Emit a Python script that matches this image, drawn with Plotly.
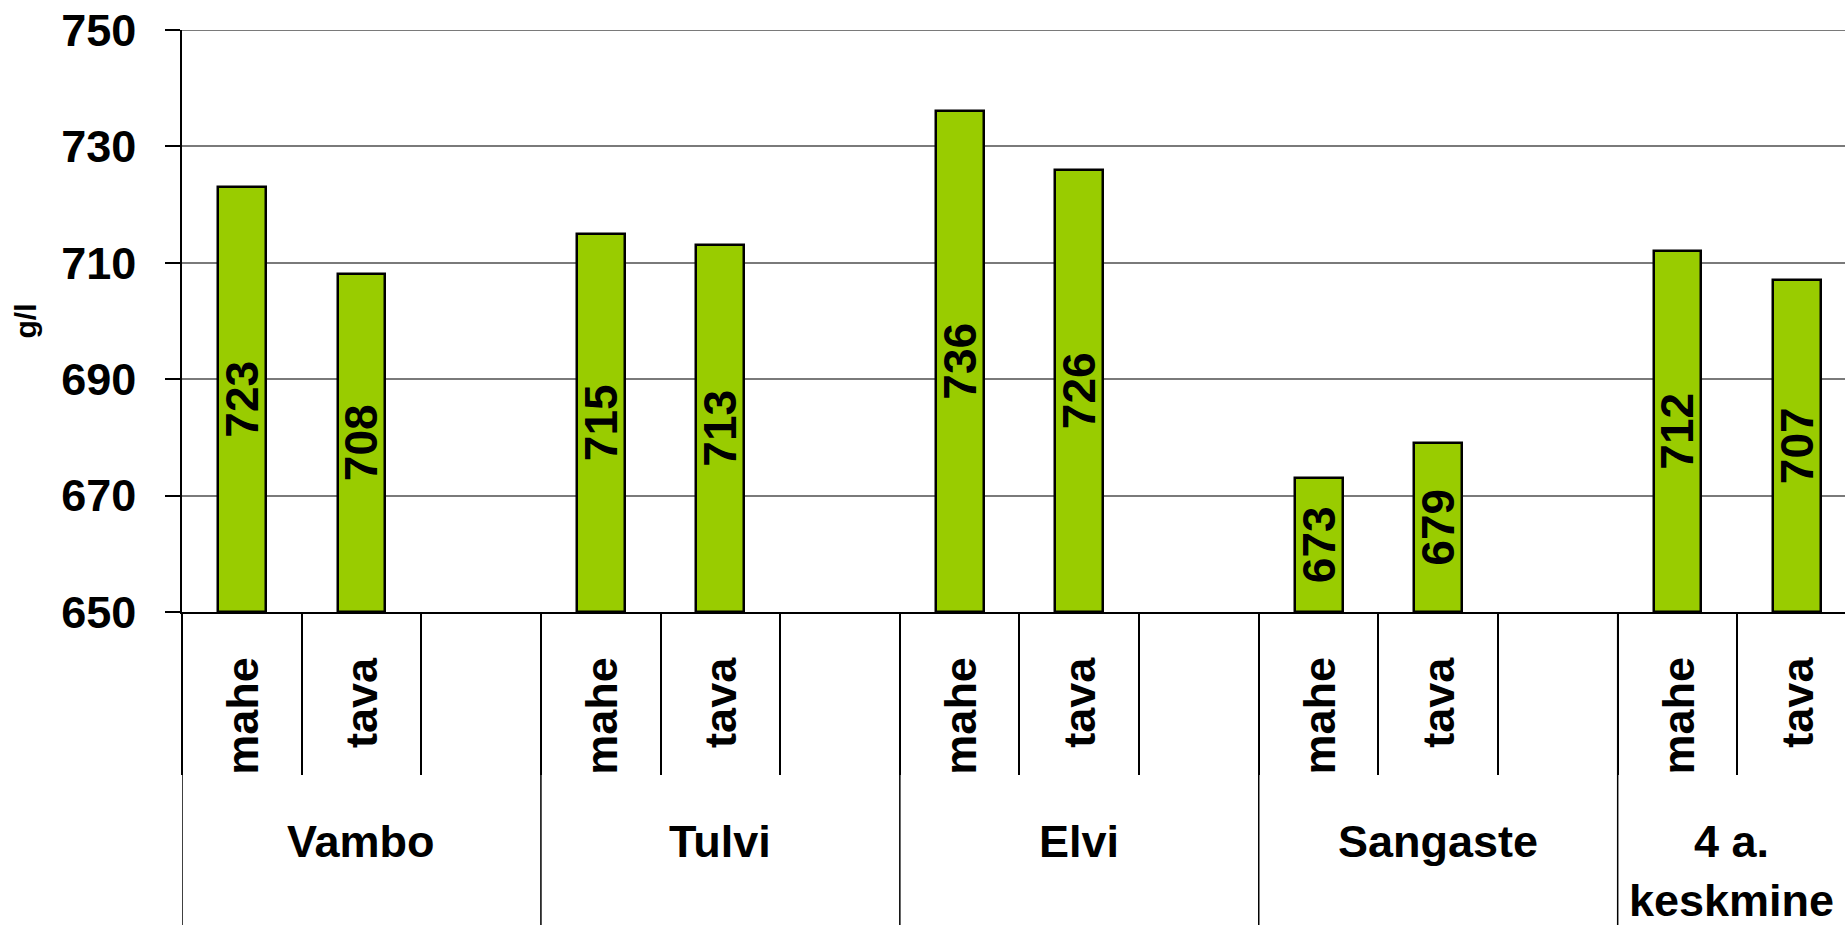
import plotly.graph_objects as go

# ---- data ----
groups = ["Vambo", "Tulvi", "Elvi", "Sangaste", "4 a.<br>keskmine"]
subs = ["mahe", "tava", ""]
mahe = [723, 715, 736, 673, 712]
tava = [708, 713, 726, 679, 707]
y_ticks = [650, 670, 690, 710, 730, 750]
y_title = "g/l"

BASE = 650
FONT = "Liberation Sans, Arial, sans-serif"
GREEN = "#99CC00"
GRID = "#7a7a7a"

W, H = 1845, 925
ML, MR, MT, MB = 182, 0, 30, 313
plot_h = H - MT - MB

# slot categories: 3 per group (mahe, tava, empty)
slots = []
slot_vals = []
slot_sub = []
for gi, g in enumerate(groups):
    vals = [mahe[gi], tava[gi], None]
    for si, s in enumerate(subs):
        slots.append(f"{g}|{s}|{gi}")
        slot_vals.append(vals[si])
        slot_sub.append(s)

xs = [s for s, v in zip(slots, slot_vals) if v is not None]
vs = [v for v in slot_vals if v is not None]

x_range = [-0.5, 13.4]

fig = go.Figure()
fig.add_trace(go.Bar(
    x=xs,
    y=[v - BASE for v in vs],
    base=BASE,
    text=[str(v) for v in vs],
    textposition="inside",
    insidetextanchor="middle",
    textangle=-90,
    constraintext="none",
    textfont=dict(family=FONT, size=46, color="black", weight="bold"),
    marker=dict(color=GREEN, line=dict(color="black", width=2.5)),
    width=0.4,
    hoverinfo="skip",
    cliponaxis=False,
))

shapes = []
annotations = []
# top gridline (at the range edge)
shapes.append(dict(type="line", xref="paper", yref="y", x0=0, x1=1,
                   y0=y_ticks[-1], y1=y_ticks[-1], layer="below",
                   line=dict(color=GRID, width=2)))
# group dividers extending to the bottom of the figure
for gi in range(len(groups)):
    xb = gi * 3 - 0.5
    shapes.append(dict(type="line", xref="x", yref="paper",
                       x0=xb, x1=xb, y0=0, y1=-MB / plot_h,
                       line=dict(color="black", width=1.5)))
# sub-labels
for i, s in enumerate(slot_sub):
    if s and i <= x_range[1]:
        annotations.append(dict(
            text=s, xref="x", yref="paper", x=i, y=0,
            xanchor="center", yanchor="top", yshift=-43,
            textangle=-90, showarrow=False,
            font=dict(family=FONT, size=45, color="black", weight="bold")))
# group labels centered on the visible part of each group
for gi, g in enumerate(groups):
    start = gi * 3 - 0.5
    end = min(gi * 3 + 2.5, x_range[1])
    annotations.append(dict(
        text=g, xref="x", yref="paper", x=(start + end) / 2, y=0,
        xanchor="center", yanchor="top", yshift=-202,
        showarrow=False,
        font=dict(family=FONT, size=45, color="black", weight="bold")))

fig.update_layout(
    width=W, height=H, autosize=False,
    margin=dict(l=ML, r=MR, t=MT, b=MB, pad=0),
    plot_bgcolor="white", paper_bgcolor="white",
    showlegend=False,
    bargap=0,
    shapes=shapes,
    annotations=annotations,
    xaxis=dict(
        type="category", categoryorder="array", categoryarray=slots,
        range=x_range, showticklabels=False, automargin=False,
        ticks="outside", tickson="boundaries", ticklen=161,
        tickcolor="black", tickwidth=1.5,
        showline=True, linecolor="black", linewidth=2,
        showgrid=False, zeroline=False,
    ),
    yaxis=dict(
        range=[y_ticks[0], y_ticks[-1]], tickvals=y_ticks, automargin=False,
        ticks="outside", ticklen=15, tickcolor="black", tickwidth=1.5,
        ticklabelstandoff=20,
        tickfont=dict(family=FONT, size=45, color="black", weight="bold"),
        showline=True, linecolor="black", linewidth=1.5,
        showgrid=True, gridcolor=GRID, gridwidth=1.5,
        zeroline=False,
        title=dict(text=y_title, standoff=16,
                   font=dict(family=FONT, size=30, color="black", weight="bold")),
    ),
)

fig.write_html(
    "out.html",
    config={"displayModeBar": False},
    post_script="document.body.style.margin='0';document.body.style.overflow='hidden';",
)
